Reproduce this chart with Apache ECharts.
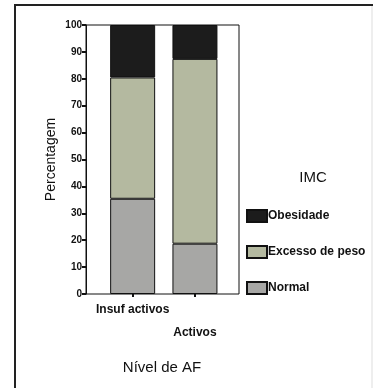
<!DOCTYPE html>
<html>
<head>
<meta charset="utf-8">
<script src="https://cdn.jsdelivr.net/npm/echarts@6/dist/echarts.min.js"></script>
<style>
  html, body { margin: 0; padding: 0; background: #fff; }
  #chart { width: 373px; height: 388px; }
</style>
</head>
<body>
<div id="chart"></div>
<script>
// Physical activity level (categories) and BMI class shares, in percent
const categories = ['Insuf activos', 'Activos'];
const normal = [35.4, 18.7];
const excesso = [45.1, 68.7];
const obesidade = [19.5, 12.6];
const yTicks = { min: 0, max: 100, interval: 10 };

const FONT = 'Liberation Sans, Arial, sans-serif';
const chart = echarts.init(document.getElementById('chart'), null, { renderer: 'canvas' });

const barStyle = (color) => ({ color: color, borderColor: '#111', borderWidth: 1 });

chart.setOption({
  backgroundColor: '#fff',
  animation: false,
  title: [
    { text: 'IMC', left: 313, top: 170, textAlign: 'center', padding: 0,
      textStyle: { fontFamily: FONT, fontSize: 15, fontWeight: 'normal', color: '#111' } },
    { text: 'Nível de AF', left: 162, top: 360, textAlign: 'center', padding: 0,
      textStyle: { fontFamily: FONT, fontSize: 15, fontWeight: 'normal', color: '#111' } }
  ],
  legend: {
    orient: 'vertical',
    left: 246, top: 209,
    icon: 'rect',
    itemWidth: 20, itemHeight: 12, itemGap: 22,
    padding: 0,
    data: ['Obesidade', 'Excesso de peso', 'Normal'],
    textStyle: { fontFamily: FONT, fontSize: 12, fontWeight: 'bold', color: '#111', padding: [0, 0, 0, -4] }
  },
  graphic: [
    { type: 'line', shape: { x1: 14, y1: 5, x2: 373, y2: 5 }, style: { stroke: '#222', lineWidth: 2 } },
    { type: 'line', shape: { x1: 15, y1: 4, x2: 15, y2: 388 }, style: { stroke: '#222', lineWidth: 2 } },
    { type: 'line', shape: { x1: 372, y1: 6, x2: 372, y2: 388 }, style: { stroke: '#ddd', lineWidth: 1 } }
  ],
  grid: [
    // plot frame with the value axis
    { left: 86, top: 25, width: 153, height: 269, show: true, borderColor: '#111', borderWidth: 1, backgroundColor: '#fff' },
    // bar columns
    { left: 101.5, top: 25, width: 124.6, height: 269 }
  ],
  xAxis: [
    { gridIndex: 0, type: 'value', show: false, min: 0, max: 1 },
    {
      gridIndex: 1, type: 'category', data: categories,
      axisLine: { show: false },
      axisTick: { show: true, alignWithLabel: true, length: 3, lineStyle: { color: '#111', width: 2 } },
      axisLabel: {
        margin: 4, interval: 0, lineHeight: 23,
        fontFamily: FONT, fontSize: 12, fontWeight: 'bold', color: '#111',
        formatter: (v, i) => (i === 1 ? '\n' + v : v)
      }
    }
  ],
  yAxis: [
    {
      gridIndex: 0, type: 'value', min: yTicks.min, max: yTicks.max, interval: yTicks.interval,
      name: 'Percentagem', nameLocation: 'middle', nameGap: 28, nameRotate: 90,
      nameTextStyle: { fontFamily: FONT, fontSize: 14, color: '#111' },
      axisLine: { show: true, lineStyle: { color: '#111', width: 1 } },
      axisTick: { show: true, length: 4, lineStyle: { color: '#111', width: 2 } },
      axisLabel: { margin: 4, fontFamily: FONT, fontSize: 10, fontWeight: 'bold', color: '#111' },
      splitLine: { show: false }
    },
    { gridIndex: 1, type: 'value', min: yTicks.min, max: yTicks.max, show: false, splitLine: { show: false } }
  ],
  series: [
    { name: 'Normal', type: 'bar', stack: 'imc', xAxisIndex: 1, yAxisIndex: 1, barWidth: 45,
      data: normal, itemStyle: barStyle('#a7a7a5') },
    { name: 'Excesso de peso', type: 'bar', stack: 'imc', xAxisIndex: 1, yAxisIndex: 1, barWidth: 45,
      data: excesso, itemStyle: barStyle('#b4b9a0') },
    { name: 'Obesidade', type: 'bar', stack: 'imc', xAxisIndex: 1, yAxisIndex: 1, barWidth: 45,
      data: obesidade, itemStyle: barStyle('#1c1c1c') }
  ]
});
</script>
</body>
</html>
